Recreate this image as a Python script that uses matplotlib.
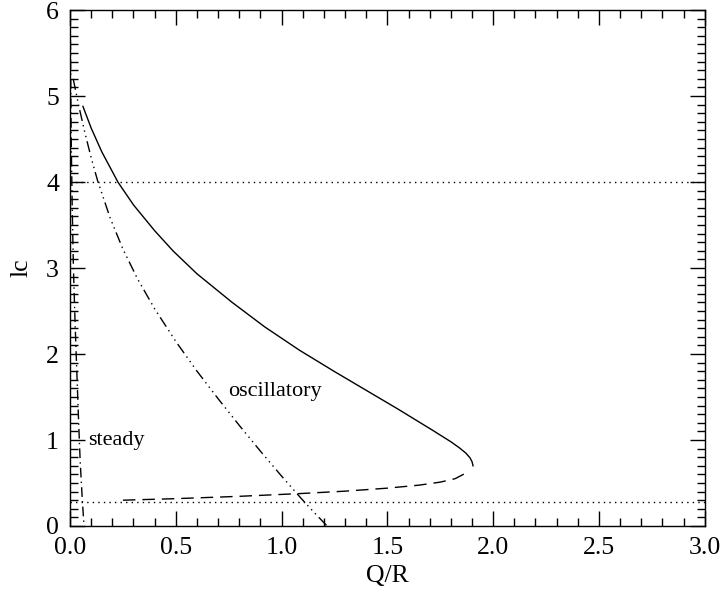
import numpy as np
import matplotlib
matplotlib.use('Agg')
import matplotlib.pyplot as plt
from matplotlib.ticker import MultipleLocator

plt.rcParams['font.family'] = ['Liberation Serif', 'DejaVu Serif']

# upper (stable) branch of the bifurcation curve
solid_q = [0.061, 0.10, 0.15, 0.227, 0.30, 0.40, 0.487, 0.60, 0.765, 0.92, 1.086,
           1.25, 1.40, 1.55, 1.716, 1.80, 1.84, 1.87, 1.89, 1.90, 1.905]
solid_lc = [4.88, 4.627, 4.352, 3.997, 3.734, 3.434, 3.199, 2.933, 2.603, 2.316, 2.042,
            1.796, 1.578, 1.36, 1.11, 0.98, 0.91, 0.85, 0.795, 0.75, 0.70]

# lower (unstable) branch
dash_q = [0.25, 0.50, 0.80, 1.087, 1.30, 1.50, 1.65, 1.75, 1.82, 1.875]
dash_lc = [0.30, 0.318, 0.345, 0.377, 0.405, 0.44, 0.475, 0.51, 0.55, 0.62]

# oscillatory boundary
osc_q = [0.015, 0.04, 0.07, 0.10, 0.13, 0.19, 0.25, 0.32, 0.40, 0.50, 0.60, 0.70,
         0.80, 0.90, 1.00, 1.094, 1.15, 1.215]
osc_lc = [5.2, 4.9, 4.576, 4.282, 4.018, 3.58, 3.22, 2.87, 2.526, 2.146, 1.801, 1.48,
          1.17, 0.87, 0.58, 0.317, 0.168, 0.0]

# steady boundary
steady_q = [0.002, 0.005, 0.010, 0.016, 0.024, 0.032, 0.040, 0.048, 0.057, 0.066]
steady_lc = [5.65, 4.6, 3.75, 3.0, 2.35, 1.8, 1.25, 0.75, 0.35, 0.0]

# reference levels
hlines = [4.0, 0.28]

fig = plt.figure(figsize=(7.22, 5.92), dpi=100)
ax = fig.add_axes([0.097, 0.1115, 0.879, 0.8715])

ax.plot(solid_q, solid_lc, color='black', lw=1.0)
ax.plot(dash_q, dash_lc, color='black', lw=1.0, dashes=(9, 5))
ax.plot(osc_q, osc_lc, color='black', lw=1.0, dashes=(8, 3, 1, 3, 1, 3, 1, 3))
ax.plot(steady_q, steady_lc, color='black', lw=1.0, dashes=(7, 3, 1, 3))
for h in hlines:
    ax.axhline(h, color='black', lw=1.0, dashes=(1, 3))

ax.text(0.085, 1.0, 'steady', fontsize=16, va='center', ha='left')
ax.text(0.746, 1.56, 'oscillatory', fontsize=16, va='center', ha='left')

ax.set_xlim(0, 3.0)
ax.set_ylim(0, 6)
ax.xaxis.set_major_locator(MultipleLocator(0.5))
ax.xaxis.set_minor_locator(MultipleLocator(0.1))
ax.yaxis.set_major_locator(MultipleLocator(1))
ax.yaxis.set_minor_locator(MultipleLocator(0.1))
ax.set_xticks(np.arange(0, 3.01, 0.5))
ax.set_xticklabels(['0.0', '0.5', '1.0', '1.5', '2.0', '2.5', '3.0'])

ax.tick_params(which='both', direction='in', top=True, right=True, labelsize=18.5, width=1.0)
ax.tick_params(which='major', length=11, pad=8)
ax.tick_params(which='minor', length=5.5)
for s in ax.spines.values():
    s.set_linewidth(1.0)

ax.set_xlabel('Q/R', fontsize=18.5, labelpad=4)
ax.set_ylabel('lc', fontsize=18.5, labelpad=10)

fig.savefig('out.png', dpi=100)
